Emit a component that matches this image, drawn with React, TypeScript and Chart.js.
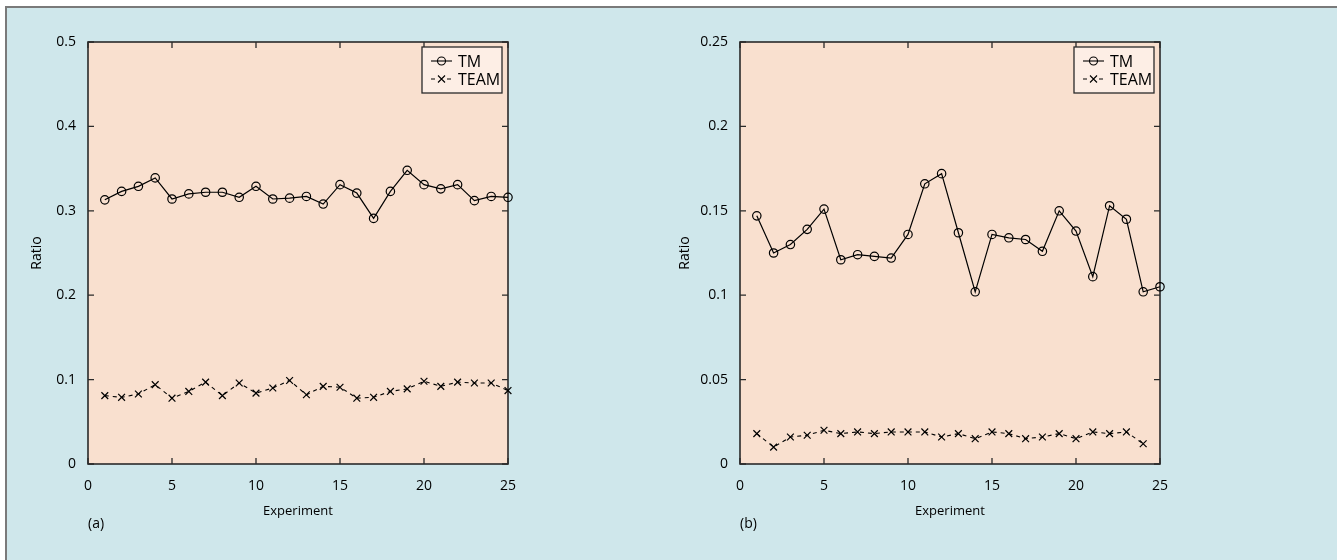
import React, { useEffect, useRef } from 'react';
import { Chart, registerables } from 'chart.js';

Chart.register(...registerables);

// ---------- data ----------
const EXPERIMENTS = [1, 2, 3, 4, 5, 6, 7, 8, 9, 10, 11, 12, 13, 14, 15, 16, 17, 18, 19, 20, 21, 22, 23, 24, 25];

const TM_A = [0.313, 0.323, 0.329, 0.339, 0.314, 0.320, 0.322, 0.322, 0.316, 0.329, 0.314, 0.315, 0.317, 0.308, 0.331, 0.321, 0.291, 0.323, 0.348, 0.331, 0.326, 0.331, 0.312, 0.317, 0.316];
const TEAM_A = [0.081, 0.079, 0.083, 0.094, 0.078, 0.086, 0.097, 0.081, 0.096, 0.084, 0.090, 0.099, 0.082, 0.092, 0.091, 0.078, 0.079, 0.086, 0.089, 0.098, 0.092, 0.097, 0.096, 0.096, 0.087];

const TM_B = [0.147, 0.125, 0.130, 0.139, 0.151, 0.121, 0.124, 0.123, 0.122, 0.136, 0.166, 0.172, 0.137, 0.102, 0.136, 0.134, 0.133, 0.126, 0.150, 0.138, 0.111, 0.153, 0.145, 0.102, 0.105];
const TEAM_B = [0.018, 0.010, 0.016, 0.017, 0.020, 0.018, 0.019, 0.018, 0.019, 0.019, 0.019, 0.016, 0.018, 0.015, 0.019, 0.018, 0.015, 0.016, 0.018, 0.015, 0.019, 0.018, 0.019, 0.012];

const X_TICK_VALUES = [0, 5, 10, 15, 20, 25];
const X_TICK_LABELS = ['0', '5', '10', '15', '20', '25'];

const Y_TICK_VALUES_A = [0, 0.1, 0.2, 0.3, 0.4, 0.5];
const Y_TICK_LABELS_A = ['0', '0.1', '0.2', '0.3', '0.4', '0.5'];

const Y_TICK_VALUES_B = [0, 0.05, 0.1, 0.15, 0.2, 0.25];
const Y_TICK_LABELS_B = ['0', '0.05', '0.1', '0.15', '0.2', '0.25'];

const SERIES_NAMES = ['TM', 'TEAM'];
const X_TITLE = 'Experiment';
const Y_TITLE = 'Ratio';

// ---------- style ----------
const FONT = "'Open Sans', 'Noto Sans', sans-serif";
const PANEL_BG = '#cfe7eb';
const PLOT_BG = '#f9e0cf';
const LEGEND_BG = '#fdeee5';
const AXIS_COLOR = '#2a2a2a';
const INK = '#000000';

const decorPlugin = {
  id: 'decor',
  beforeDraw(chart: any) {
    const { ctx, chartArea: a } = chart;
    ctx.save();
    ctx.fillStyle = PLOT_BG;
    ctx.fillRect(a.left, a.top, a.right - a.left, a.bottom - a.top);
    ctx.restore();
  },
  beforeDatasetsDraw(chart: any) {
    const { ctx, chartArea: a, scales } = chart;
    ctx.save();
    ctx.strokeStyle = AXIS_COLOR;
    ctx.lineWidth = 1.6;
    ctx.strokeRect(a.left, a.top, a.right - a.left, a.bottom - a.top);
    ctx.lineWidth = 1.3;
    const len = 6;
    ctx.beginPath();
    for (const t of scales.x.ticks) {
      const px = scales.x.getPixelForValue(t.value);
      ctx.moveTo(px, a.bottom);
      ctx.lineTo(px, a.bottom - len);
      ctx.moveTo(px, a.top);
      ctx.lineTo(px, a.top + len);
    }
    for (const t of scales.y.ticks) {
      const py = scales.y.getPixelForValue(t.value);
      ctx.moveTo(a.left, py);
      ctx.lineTo(a.left + len, py);
      ctx.moveTo(a.right, py);
      ctx.lineTo(a.right - len, py);
    }
    ctx.stroke();
    ctx.restore();
  },
  afterDatasetsDraw(chart: any) {
    const { ctx, chartArea: a } = chart;
    const w = 80;
    const h = 46;
    const bx = a.right - 6 - w;
    const by = a.top + 5;
    ctx.save();
    ctx.fillStyle = LEGEND_BG;
    ctx.fillRect(bx, by, w, h);
    ctx.strokeStyle = AXIS_COLOR;
    ctx.lineWidth = 1.3;
    ctx.strokeRect(bx, by, w, h);
    chart.data.datasets.forEach((ds: any, i: number) => {
      const y = by + 14 + i * 18;
      ctx.strokeStyle = INK;
      ctx.lineWidth = 1.1;
      ctx.setLineDash(ds.borderDash || []);
      ctx.beginPath();
      ctx.moveTo(bx + 9, y);
      ctx.lineTo(bx + 30, y);
      ctx.stroke();
      ctx.setLineDash([]);
      const cx = bx + 19.5;
      ctx.beginPath();
      if (ds.pointStyle === 'circle') {
        ctx.arc(cx, y, 4, 0, Math.PI * 2);
        ctx.stroke();
      } else {
        ctx.fillStyle = LEGEND_BG;
        ctx.fillRect(cx - 4, y - 4, 8, 8);
        ctx.beginPath();
        ctx.moveTo(cx - 3.5, y - 3.5);
        ctx.lineTo(cx + 3.5, y + 3.5);
        ctx.moveTo(cx - 3.5, y + 3.5);
        ctx.lineTo(cx + 3.5, y - 3.5);
        ctx.stroke();
      }
      ctx.fillStyle = INK;
      ctx.font = `16px ${FONT}`;
      ctx.textBaseline = 'middle';
      ctx.textAlign = 'left';
      ctx.fillText(ds.label, bx + 36, y + 1);
    });
    ctx.restore();
  },
};

type PanelProps = {
  left: number;
  tm: number[];
  team: number[];
  yMax: number;
  yTickValues: number[];
  yTickLabels: string[];
  yTitlePad: number;
};

function ChartPanel(props: PanelProps) {
  const ref = useRef<HTMLCanvasElement | null>(null);
  useEffect(() => {
    if (!ref.current) return;
    const { tm, team, yMax, yTickValues, yTickLabels, yTitlePad } = props;
    const chart = new Chart(ref.current, {
      type: 'line',
      data: {
        datasets: [
          {
            label: SERIES_NAMES[0],
            data: tm.map((v, i) => ({ x: EXPERIMENTS[i], y: v })),
            borderColor: INK,
            borderWidth: 1.2,
            pointStyle: 'circle',
            pointRadius: 4.2,
            pointBorderWidth: 1.2,
            pointBorderColor: INK,
            pointBackgroundColor: 'rgba(0,0,0,0)',
            tension: 0,
            clip: false,
          } as any,
          {
            label: SERIES_NAMES[1],
            data: team.map((v, i) => ({ x: EXPERIMENTS[i], y: v })),
            borderColor: INK,
            borderWidth: 1.1,
            borderDash: [4, 4],
            pointStyle: 'crossRot',
            pointRadius: 4.8,
            pointBorderWidth: 1.2,
            pointBorderColor: INK,
            pointBackgroundColor: 'rgba(0,0,0,0)',
            tension: 0,
            clip: false,
          } as any,
        ],
      },
      options: {
        responsive: false,
        animation: false,
        events: [],
        layout: { padding: { left: 0, right: 160, top: 42, bottom: 0 } },
        plugins: {
          legend: { display: false },
          tooltip: { enabled: false },
        },
        scales: {
          x: {
            type: 'linear',
            min: 0,
            max: 25,
            afterBuildTicks: (s: any) => {
              s.ticks = X_TICK_VALUES.map((v) => ({ value: v }));
            },
            afterFit: (s: any) => {
              s.height = 96;
            },
            grid: { display: false, drawTicks: false },
            border: { display: false },
            ticks: {
              padding: 14,
              color: INK,
              font: { family: FONT, size: 14 },
              maxRotation: 0,
              autoSkip: false,
              callback: (_v: any, i: number) => X_TICK_LABELS[i],
            },
            title: {
              display: true,
              text: X_TITLE,
              color: INK,
              font: { family: FONT, size: 13 },
              padding: { top: 0, bottom: 41 },
            },
          },
          y: {
            type: 'linear',
            min: 0,
            max: yMax,
            afterBuildTicks: (s: any) => {
              s.ticks = yTickValues.map((v) => ({ value: v }));
            },
            afterFit: (s: any) => {
              s.width = 88;
            },
            grid: { display: false, drawTicks: false },
            border: { display: false },
            ticks: {
              padding: 12,
              color: INK,
              font: { family: FONT, size: 14 },
              autoSkip: false,
              callback: (_v: any, i: number) => yTickLabels[i],
            },
            title: {
              display: true,
              text: Y_TITLE,
              color: INK,
              font: { family: FONT, size: 14 },
              padding: { top: yTitlePad, bottom: 0 },
            },
          },
        },
      } as any,
      plugins: [decorPlugin],
    });
    return () => chart.destroy();
  }, []);
  return (
    <canvas
      ref={ref}
      width={668}
      height={560}
      style={{ position: 'absolute', left: props.left, top: 0, width: 668, height: 560 }}
    />
  );
}

const subLabelStyle = (left: number): React.CSSProperties => ({
  position: 'absolute',
  left,
  top: 513,
  fontFamily: FONT,
  fontSize: 14,
  lineHeight: '19px',
  color: INK,
});

export default function App() {
  return (
    <div style={{ position: 'absolute', left: 0, top: 0, width: 1337, height: 560, overflow: 'hidden', background: '#ffffff' }}>
      <div
        style={{
          position: 'absolute',
          left: 5,
          top: 6,
          width: 1332,
          height: 554,
          boxSizing: 'border-box',
          background: PANEL_BG,
          borderTop: '2px solid #7a7a7a',
          borderLeft: '2px solid #7a7a7a',
        }}
      />
      <ChartPanel left={0} tm={TM_A} team={TEAM_A} yMax={0.5} yTickValues={Y_TICK_VALUES_A} yTickLabels={Y_TICK_LABELS_A} yTitlePad={29} />
      <ChartPanel left={652} tm={TM_B} team={TEAM_B} yMax={0.25} yTickValues={Y_TICK_VALUES_B} yTickLabels={Y_TICK_LABELS_B} yTitlePad={25} />
      <div style={subLabelStyle(88)}>(a)</div>
      <div style={subLabelStyle(740)}>(b)</div>
    </div>
  );
}
